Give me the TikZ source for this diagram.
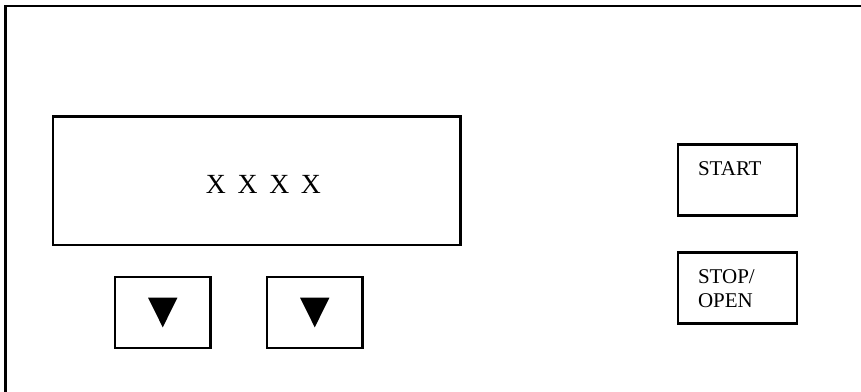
\documentclass[tikz,border=0pt]{standalone}
\usepackage{fontspec}
\setmainfont{Liberation Serif}
\begin{document}
\begin{tikzpicture}[x=1pt,y=-1pt,
  panel/.style={draw=black,line width=2.1pt,inner sep=0pt,outer sep=0pt},
  lbl/.style={inner sep=0pt,outer sep=0pt,font=\fontsize{21}{24.3}\selectfont,align=left},
  tri/.style={fill=black}]
\useasboundingbox (0,0) rectangle (861,391);
\clip (0,0) rectangle (861,391);
% outer frame (right and bottom edges lie outside the picture)
\draw[line width=2.1pt] (5.5,400) -- (5.5,6) -- (875,6);
% display
\node[panel,minimum width=407.5pt,minimum height=128.5pt] (disp) at (256.75,180.75) {};
\node[inner sep=0pt,anchor=base west,font=\fontsize{27.7}{30}\selectfont] (digits) at (205.7,193.3)
  {X\hspace{11.7pt}X\hspace{11.7pt}X\hspace{11.7pt}X};
% arrow buttons
\node[panel,minimum width=95.5pt,minimum height=71pt] (down1) at (162.75,312.5) {};
\node[panel,minimum width=95.5pt,minimum height=71pt] (down2) at (314.75,312.5) {};
\fill[tri,shift={(down1.center)}] (-14.7,-14.8) -- (14.7,-14.8) -- (0,14.8) -- cycle;
\fill[tri,shift={(down2.center)}] (-14.7,-14.8) -- (14.7,-14.8) -- (0,14.8) -- cycle;
% right buttons
\node[panel,minimum width=119.5pt,minimum height=71pt] (start) at (737.5,180) {};
\node[panel,minimum width=119.5pt,minimum height=71pt] (stop) at (737.5,288) {};
\node[lbl,anchor=base west] (starttxt) at (698,175) {START};
\node[lbl,anchor=base west] (stoptxt) at (698,307.3) {STOP/\\OPEN};
\end{tikzpicture}
\end{document}
